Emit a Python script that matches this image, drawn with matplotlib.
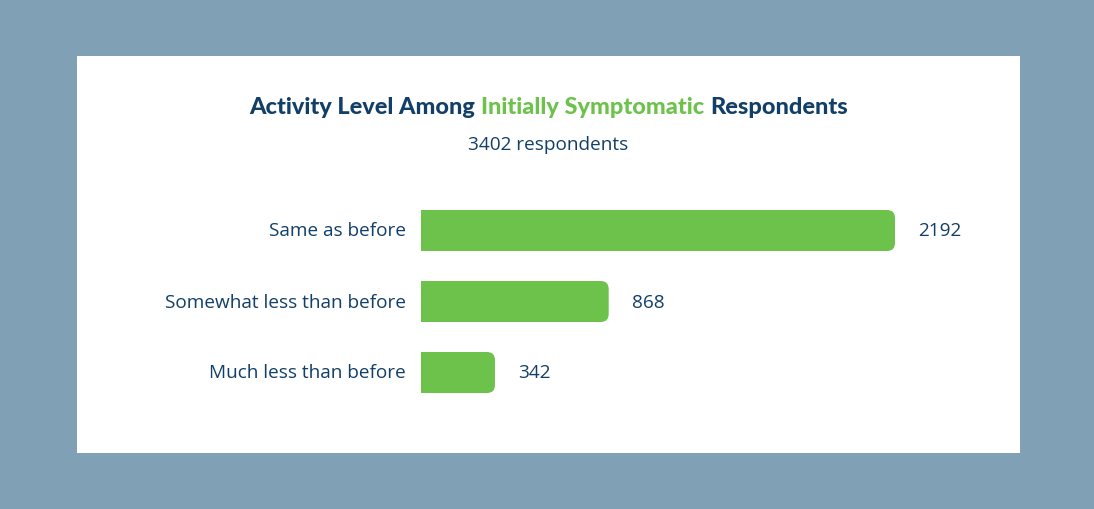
import matplotlib.pyplot as plt
from matplotlib.patches import Rectangle, FancyBboxPatch

# data
categories = ["Same as before", "Somewhat less than before", "Much less than before"]
counts = [2192, 868, 342]
title_parts = ["Activity Level Among", "Initially Symptomatic", "Respondents"]
subtitle = "3402 respondents"

navy = "#123f68"
green = "#6cc24a"
bg = "#7fa0b5"
W, H = 1094, 510

fig = plt.figure(figsize=(W / 100, H / 100), dpi=100)
fig.patch.set_facecolor(bg)

# white card
fig.add_artist(Rectangle((77 / W, (H - 454) / H), (1020 - 77) / W, (454 - 57) / H,
                         transform=fig.transFigure, facecolor="white", edgecolor="none", zorder=0))

ax = fig.add_axes([421 / W, (H - 401) / H, (1000 - 421) / W, (401 - 204) / H])
ax.set_facecolor("none")
ax.axis("off")
ax.set_xlim(0, 2192 * 579 / 474)
ax.set_ylim(197 / 71 - 27.5 / 71, -27.5 / 71)

ypos = list(range(len(categories)))
bars = ax.barh(ypos, counts, height=41 / 71, color=green)

# pixels per data unit, for the rounded ends
fig.canvas.draw()
px_x = ax.transData.transform((1, 0))[0] - ax.transData.transform((0, 0))[0]
px_y = abs(ax.transData.transform((0, 1))[1] - ax.transData.transform((0, 0))[1])
r = 8 / px_x
for b in bars:
    x, y, w, h = b.get_x(), b.get_y(), b.get_width(), b.get_height()
    b.set_visible(False)
    ax.add_patch(FancyBboxPatch((x, y), w, h, boxstyle=f"round,pad=0,rounding_size={r}",
                                mutation_aspect=px_x / px_y, facecolor=green, edgecolor="none"))
    ax.add_patch(Rectangle((x, y), w / 2, h, facecolor=green, edgecolor="none"))

fs = 13.7
for yv, c, lab in zip(ypos, counts, categories):
    ax.text(c + 23 / px_x, yv, str(c), ha="left", va="center", fontsize=fs,
            family="Open Sans", color=navy)
    ax.text(-15 / px_x, yv, lab, ha="right", va="center", fontsize=fs,
            family="Open Sans", color=navy)

fig.text(548.5 / W, 1 - 145 / H, subtitle, ha="center", va="center", fontsize=fs,
         family="Open Sans", color=navy)

# multi-coloured title
renderer = fig.canvas.get_renderer()
tkw = dict(fontsize=16.9, family="Lato", weight="black", va="center")
colors = [navy, green, navy]
texts = [fig.text(0, 1 - 107 / H, p, color=col, **tkw) for p, col in zip(title_parts, colors)]
t1 = fig.text(0, 0, "a a", **tkw)
t2 = fig.text(0, 0, "aa", **tkw)
space = t1.get_window_extent(renderer).width - t2.get_window_extent(renderer).width
t1.remove()
t2.remove()
widths = [t.get_window_extent(renderer).width for t in texts]
total = sum(widths) + space * (len(texts) - 1)
x = 548.5 - total / 2
for t, wd in zip(texts, widths):
    t.set_x(x / W)
    x += wd + space

fig.savefig("out.png", dpi=100, facecolor=bg)
